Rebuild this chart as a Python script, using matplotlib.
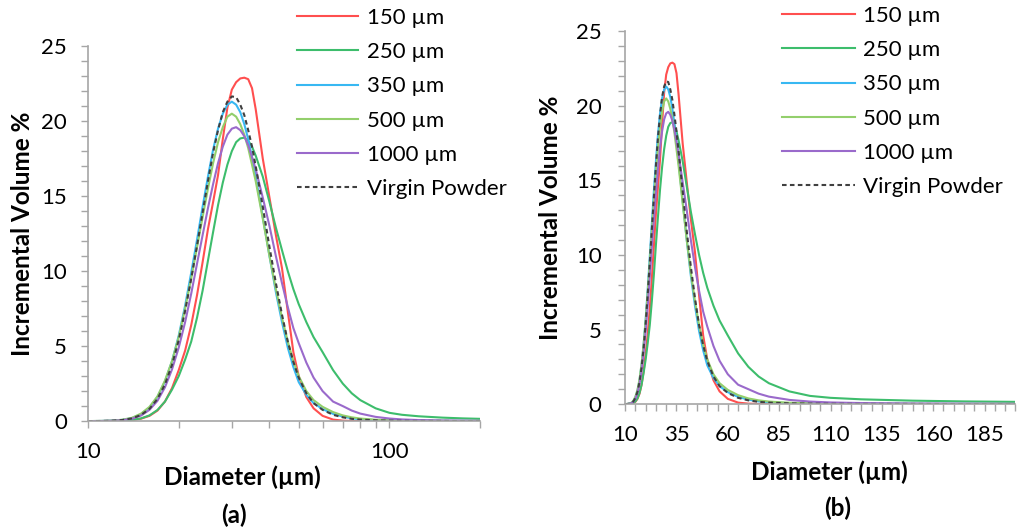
import matplotlib
matplotlib.use("Agg")
import matplotlib.pyplot as plt
from matplotlib.ticker import FixedLocator, NullFormatter, FixedFormatter

plt.rcParams['font.family'] = ['Lato', 'DejaVu Sans']

# particle diameter bins (um)
diameter = [10, 11, 12, 13, 14, 15, 16, 17, 18, 19, 20, 21, 22, 23, 24, 25, 26, 27, 28, 29,
            30, 31, 32, 33, 34, 35, 36, 38, 40, 42, 44, 46, 48, 50, 53, 56, 60, 65, 70, 75,
            80, 90, 100, 110, 125, 150, 175, 200]

# incremental volume % for each sieve size
vol_150 = [0, 0, 0.01, 0.03, 0.07, 0.16, 0.35, 0.7, 1.3, 2.2, 3.4, 4.7, 6.4, 8.4, 10.6, 12.8, 14.6, 16.4, 18.8, 20.9,
           22.1, 22.6, 22.85, 22.9, 22.8, 22.2, 20.8, 17.5, 14.9, 12.4, 10.2, 7.3, 4.6, 3.0, 1.6, 0.85, 0.35, 0.1, 0.03, 0.01,
           0, 0, 0, 0, 0, 0, 0, 0]
vol_250 = [0, 0, 0.01, 0.03, 0.08, 0.18, 0.38, 0.74, 1.3, 2.1, 3.0, 4.1, 5.3, 6.9, 8.7, 10.7, 12.6, 14.4, 15.9, 17.1,
           18.0, 18.6, 18.85, 18.9, 18.7, 18.3, 17.7, 16.3, 14.6, 12.9, 11.4, 10.0, 8.8, 7.8, 6.6, 5.6, 4.6, 3.4, 2.5, 1.85,
           1.4, 0.85, 0.55, 0.42, 0.32, 0.23, 0.18, 0.15]
vol_350 = [0, 0.007, 0.026, 0.08, 0.2, 0.46, 0.9, 1.61, 2.64, 4.0, 5.7, 7.7, 9.9, 12.1, 14.3, 16.3, 18.1, 19.5, 20.5, 21.1,
           21.3, 21.1, 20.6, 19.8, 18.8, 17.6, 16.3, 13.6, 11.0, 8.6, 6.6, 4.9, 3.6, 2.6, 1.75, 1.2, 0.8, 0.48, 0.3, 0.18,
           0.12, 0.06, 0.04, 0.03, 0.02, 0.01, 0.01, 0]
vol_500 = [0, 0.01, 0.03, 0.09, 0.22, 0.5, 0.95, 1.65, 2.7, 4.0, 5.6, 7.5, 9.5, 11.6, 13.6, 15.5, 17.2, 18.6, 19.6, 20.3,
           20.5, 20.3, 19.8, 19.1, 18.2, 17.1, 16.0, 13.5, 11.0, 8.8, 6.9, 5.3, 4.0, 3.0, 2.0, 1.4, 0.95, 0.6, 0.38, 0.25,
           0.17, 0.09, 0.06, 0.04, 0.03, 0.02, 0.01, 0.01]
vol_1000 = [0, 0.005, 0.02, 0.06, 0.16, 0.37, 0.75, 1.35, 2.25, 3.45, 4.9, 6.6, 8.5, 10.5, 12.4, 14.2, 15.8, 17.2, 18.3, 19.1,
            19.5, 19.6, 19.4, 19.0, 18.4, 17.6, 16.8, 14.9, 13.0, 11.0, 9.2, 7.6, 6.2, 5.2, 3.9, 2.9, 2.0, 1.3, 1.0, 0.7,
            0.5, 0.28, 0.17, 0.11, 0.07, 0.04, 0.03, 0.02]
vol_virgin = [0, 0.006, 0.023, 0.07, 0.18, 0.41, 0.82, 1.48, 2.45, 3.75, 5.4, 7.35, 9.5, 11.7, 13.9, 16.0, 17.9, 19.4, 20.6, 21.3,
              21.65, 21.6, 21.1, 20.4, 19.4, 18.3, 17.0, 14.3, 11.6, 9.2, 7.1, 5.3, 3.95, 2.9, 1.85, 1.2, 0.75, 0.42, 0.25, 0.15,
              0.1, 0.05, 0.03, 0.02, 0.01, 0.01, 0, 0]

labels = ["150 µm", "250 µm", "350 µm", "500 µm", "1000 µm", "Virgin Powder"]
series = [vol_150, vol_250, vol_350, vol_500, vol_1000, vol_virgin]
colors = ["#ff4f4f", "#3dbd6c", "#38b8f2", "#93cf6c", "#9a6acb", "#404040"]
styles = ["-", "-", "-", "-", "-", (0, (2.2, 1.6))]

linear_ticks = [10, 35, 60, 85, 110, 135, 160, 185]

GRAY = "#a6a6a6"
FS = 16      # tick / legend text
LFS = 17.5   # bold axis titles

fig = plt.figure(figsize=(10.35, 5.31), dpi=100)
ax1 = fig.add_axes([0.085, 0.207, 0.379, 0.706])
ax2 = fig.add_axes([0.604, 0.239, 0.377, 0.702])

for ax in (ax1, ax2):
    for vals, lab, col, ls in zip(series, labels, colors, styles):
        ax.plot(diameter, vals, color=col, linestyle=ls, linewidth=1.5, label=lab)
    ax.set_ylim(0, 25)
    ax.set_xlim(10, 200)
    for s in ("top", "right"):
        ax.spines[s].set_visible(False)
    for s in ("left", "bottom"):
        ax.spines[s].set_color(GRAY)
        ax.spines[s].set_linewidth(1.2)
    ax.yaxis.set_major_locator(FixedLocator([0, 5, 10, 15, 20, 25]))
    ax.yaxis.set_minor_locator(FixedLocator(list(range(0, 26))))
    ax.tick_params(axis="both", which="both", direction="out", length=5, width=1, color=GRAY,
                   labelsize=FS)
    ax.tick_params(axis="x", which="both", pad=10)
    ax.set_ylabel("Incremental Volume %", fontsize=LFS, fontweight="bold")
    ax.set_xlabel("Diameter (µm)", fontsize=LFS, fontweight="bold")
    ax.xaxis.label.set_va("center")
    ax.yaxis.label.set_va("center")

# (a) log axis
ax1.set_xscale("log")
ax1.xaxis.set_major_locator(FixedLocator([10, 100]))
ax1.xaxis.set_major_formatter(FixedFormatter(["10", "100"]))
ax1.xaxis.set_minor_locator(FixedLocator([20, 30, 40, 50, 60, 70, 80, 90, 200]))
ax1.xaxis.set_minor_formatter(NullFormatter())
ax1.tick_params(axis="y", which="both", pad=10)
ax1.xaxis.set_label_coords(0.393, -0.149)
ax1.yaxis.set_label_coords(-0.168, 0.5)
ax1.text(0.372, -0.251, "(a)", transform=ax1.transAxes, ha="center", va="center",
         fontsize=LFS, fontweight="bold")

# (b) linear axis
ax2.xaxis.set_major_locator(FixedLocator(linear_ticks))
ax2.xaxis.set_minor_locator(FixedLocator(list(range(10, 201, 5))))
ax2.tick_params(axis="y", which="both", pad=12)
ax2.xaxis.set_label_coords(0.523, -0.182)
ax2.yaxis.set_label_coords(-0.192, 0.5)
ax2.text(0.545, -0.279, "(b)", transform=ax2.transAxes, ha="center", va="center",
         fontsize=LFS, fontweight="bold")

ax1.legend(loc="upper left", bbox_to_anchor=(0.287, 0.985), bbox_transform=fig.transFigure,
           frameon=False, fontsize=FS, handlelength=2.75, handletextpad=0.4,
           labelspacing=0.64, borderpad=0, borderaxespad=0)
ax2.legend(loc="upper left", bbox_to_anchor=(0.7556, 0.989), bbox_transform=fig.transFigure,
           frameon=False, fontsize=FS, handlelength=3.3, handletextpad=0.36,
           labelspacing=0.64, borderpad=0, borderaxespad=0)

fig.savefig("out.png", dpi=100)
